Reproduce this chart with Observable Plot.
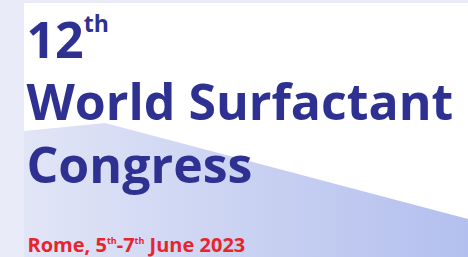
<!DOCTYPE html>
<html><head><meta charset="utf-8">
<script src="https://cdn.jsdelivr.net/npm/d3@7"></script>
<script src="https://cdn.jsdelivr.net/npm/@observablehq/plot@0.6"></script>
<style>body{margin:0;background:#fff}svg{display:block}</style>
</head><body><div id="chart"></div>
<script>
const W = 468, H = 257;

// background bands (left strip, top strip)
const bandX1 = [0, 24];
const bandX2 = [24, 468];
const bandY1 = [0, 0];
const bandY2 = [257, 3];
const bandColor = "#e9ecf8";

// shaded lower wedge: boundary points
const edgeX = [24, 105, 468];
const edgeY = [131, 123, 219];
const gradStart = "#e1e5f6";
const gradEnd = "#b3bfee";

// text lines ("^xx" marks a superscript)
const lineTexts = ["12^th", "World Surfactant", "Congress", "Rome, 5^th-7^th June 2023"];
const lineX = [26, 26, 26, 27];
const lineBaseline = [57, 119, 182, 251];
const lineSize = [50, 50, 50, 20];
const lineColor = ["#2e3192", "#2e3192", "#2e3192", "#e8242c"];
const supScale = [0.46, 0.46, 0.46, 0.45];
const supShift = [0.52, 0.52, 0.52, 0.4];

const bands = bandX1.map((d, i) => ({x1: d, x2: bandX2[i], y1: bandY1[i], y2: bandY2[i]}));
const edge = edgeX.map((x, i) => ({x, y: edgeY[i]}));
const lines = lineTexts.map((t, i) => ({t, x: lineX[i], y: lineBaseline[i], s: lineSize[i], c: lineColor[i], i}));

const svg = Plot.plot({
  width: W, height: H,
  margin: 0,
  style: {background: "#ffffff", fontFamily: "'Open Sans', sans-serif"},
  x: {domain: [0, W], range: [0, W], axis: null},
  y: {domain: [0, H], range: [0, H], axis: null},
  color: {type: "identity"},
  marks: [
    Plot.rect(bands, {x1: "x1", x2: "x2", y1: "y1", y2: "y2", fill: bandColor}),
    Plot.areaY(edge, {x: "x", y1: "y", y2: H, fill: "url(#wedgeGrad)"}),
    Plot.text(lines, {x: "x", y: "y", text: "t", fontSize: "s", fill: "c", textAnchor: "start", fontWeight: "bold"})
  ]
});

// gradient definition
const defs = d3.select(svg).insert("defs", ":first-child");
const g = defs.append("linearGradient").attr("id", "wedgeGrad")
  .attr("gradientUnits", "userSpaceOnUse").attr("x1", 24).attr("x2", 468).attr("y1", 0).attr("y2", 0);
g.append("stop").attr("offset", 0).attr("stop-color", gradStart);
g.append("stop").attr("offset", 1).attr("stop-color", gradEnd);

// baseline at y and superscripts
d3.select(svg).selectAll("text").each(function() {
  const el = d3.select(this);
  const raw = this.textContent;
  if (!lineTexts.includes(raw)) return;
  const idx = lineTexts.indexOf(raw);
  const fs = lineSize[idx];
  el.attr("dy", null).attr("y", null).text(null);
  const parts = raw.split(/(\^[a-z]+)/).filter(p => p.length);
  let up = false;
  for (const p of parts) {
    if (p.startsWith("^")) {
      el.append("tspan").attr("font-size", fs * supScale[idx]).attr("dy", -fs * supShift[idx]).text(p.slice(1));
      up = true;
    } else {
      const ts = el.append("tspan").text(p);
      if (up) { ts.attr("dy", fs * supShift[idx]); up = false; }
    }
  }
});

document.getElementById("chart").appendChild(svg);
</script>
</body></html>
